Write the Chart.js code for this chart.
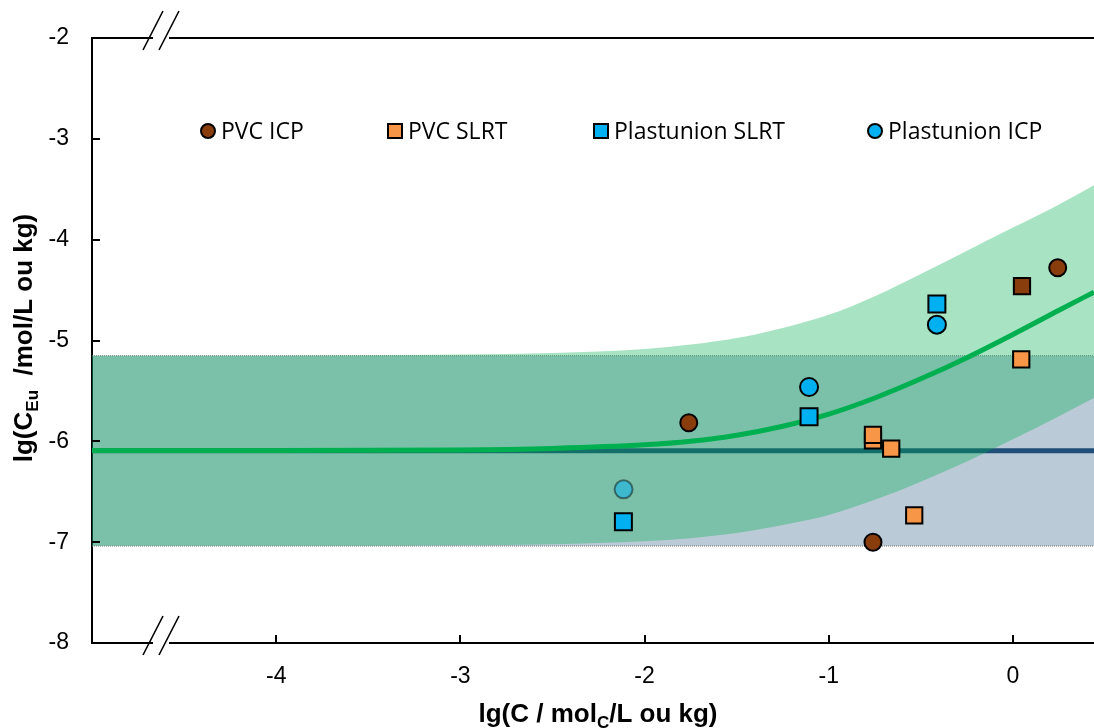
<!DOCTYPE html>
<html><head><meta charset="utf-8">
<script src="https://cdn.jsdelivr.net/npm/chart.js@4/dist/chart.umd.min.js"></script>
<style>html,body{margin:0;padding:0;background:#fff;overflow:hidden}canvas{display:block}</style>
</head><body><canvas id="c" width="1094" height="728" style="width:1094px;height:728px"></canvas>
<script>
// ---- data ----
const xTicks = [-4, -3, -2, -1, 0];
const yTicks = [-8, -7, -6, -5, -4, -3, -2];
const pvcIcpX = [-1.76, -0.76, 0.243];
const pvcIcpY = [-5.815, -7.0, -4.278];
const pvcSlrtX = [-0.76, -0.76, -0.661, -0.536, 0.045];
const pvcSlrtY = [-5.99, -5.935, -6.073, -6.734, -5.187];
const pvcSlrtBrownX = [0.049];
const pvcSlrtBrownY = [-4.46];
const plastSlrtX = [-2.115, -1.107, -0.413];
const plastSlrtY = [-6.797, -5.756, -4.638];
const plastIcpX = [-1.107, -0.413];
const plastIcpY = [-5.461, -4.843];
const plastIcpFadedX = [-2.114];
const plastIcpFadedY = [-6.476];
const curveX = [-5, -4, -3, -2.5, -2, -1.75, -1.5, -1.25, -1, -0.75, -0.5, -0.25, 0, 0.25, 0.44];
const fitY   = [-6.09, -6.09, -6.085, -6.07, -6.035, -6.0, -5.94, -5.85, -5.73, -5.57, -5.38, -5.17, -4.94, -4.70, -4.52];
const upperY = [-5.15, -5.15, -5.14, -5.125, -5.085, -5.04, -4.975, -4.875, -4.745, -4.56, -4.34, -4.11, -3.88, -3.65, -3.46];
const lowerY = [-7.035, -7.035, -7.03, -7.02, -6.99, -6.96, -6.91, -6.83, -6.73, -6.58, -6.40, -6.20, -5.98, -5.75, -5.57];
const baseX = [-5, 0.44];
const baseY = [-6.093, -6.093];
const baseUpperY = [-5.151, -5.151];
const baseLowerY = [-7.038, -7.038];
const legendLabels = ['PVC ICP', 'PVC SLRT', 'Plastunion SLRT', 'Plastunion ICP'];

// ---- styles ----
const BROWN = '#8a3d0c', ORANGE = '#f79646', BLUE = '#00b0f0';
const pts = (xs, ys) => xs.map((x, i) => ({x, y: ys[i]}));
const noPt = {pointRadius: 0, pointHoverRadius: 0};

const datasets = [
  {label: 'PVC ICP', data: pts(pvcIcpX, pvcIcpY), showLine: false, pointStyle: 'circle', pointRadius: 8.5,
   backgroundColor: BROWN, borderColor: '#000', borderWidth: 2, order: 1},
  {label: 'PVC SLRT b', data: pts(pvcSlrtBrownX, pvcSlrtBrownY), showLine: false, pointStyle: 'rect', pointRadius: 11.5,
   backgroundColor: BROWN, borderColor: '#000', borderWidth: 2, order: 2},
  {label: 'PVC SLRT', data: pts(pvcSlrtX, pvcSlrtY), showLine: false, pointStyle: 'rect', pointRadius: 11.5,
   backgroundColor: ORANGE, borderColor: '#000', borderWidth: 2, order: 2},
  {label: 'Plastunion SLRT', data: pts(plastSlrtX, plastSlrtY), showLine: false, pointStyle: 'rect', pointRadius: 12,
   backgroundColor: BLUE, borderColor: '#000', borderWidth: 2, order: 3},
  {label: 'Plastunion ICP', data: pts(plastIcpX, plastIcpY), showLine: false, pointStyle: 'circle', pointRadius: 9,
   backgroundColor: BLUE, borderColor: '#000', borderWidth: 2, order: 4},
  {label: 'fit', data: pts(curveX, fitY), borderColor: '#00b050', borderWidth: 5, ...noPt,
   cubicInterpolationMode: 'monotone', fill: false, order: 6},
  {label: 'gUpper', data: pts(curveX, upperY), borderColor: 'rgba(0,0,0,0)', borderWidth: 0, ...noPt,
   cubicInterpolationMode: 'monotone', fill: '+1', backgroundColor: 'rgba(0,176,80,0.34)', order: 7},
  {label: 'gLower', data: pts(curveX, lowerY), borderColor: 'rgba(0,0,0,0)', borderWidth: 0, ...noPt,
   cubicInterpolationMode: 'monotone', fill: false, order: 7},
  {label: 'faded', data: pts(plastIcpFadedX, plastIcpFadedY), showLine: false, pointStyle: 'circle', pointRadius: 9,
   backgroundColor: 'rgba(0,176,240,0.5)', borderColor: 'rgba(0,0,0,0.45)', borderWidth: 2, order: 5},
  {label: 'base', data: pts(baseX, baseY), borderColor: '#1f4e79', borderWidth: 5, ...noPt, fill: false, order: 9},
  {label: 'bUpper', data: pts(baseX, baseUpperY), borderColor: '#777', borderWidth: 1, borderDash: [1, 1], ...noPt,
   fill: '+1', backgroundColor: 'rgba(31,78,121,0.3)', order: 10},
  {label: 'bLower', data: pts(baseX, baseLowerY), borderColor: '#777', borderWidth: 1, borderDash: [1, 1], ...noPt,
   fill: false, order: 9.5}
];

const TICKFONT = {size: 23};

const decor = {
  id: 'decor',
  afterDraw(chart) {
    const ctx = chart.ctx, a = chart.chartArea;
    const xs = chart.scales.x, ys = chart.scales.y;
    ctx.save();
    // top border
    ctx.strokeStyle = '#000'; ctx.lineWidth = 2;
    ctx.beginPath(); ctx.moveTo(a.left - 1, a.top); ctx.lineTo(a.right, a.top); ctx.stroke();
    // inner tick marks
    ctx.lineWidth = 2;
    xTicks.forEach(v => {
      const px = Math.round(xs.getPixelForValue(v));
      ctx.beginPath(); ctx.moveTo(px, a.bottom); ctx.lineTo(px, a.bottom - 8); ctx.stroke();
    });
    yTicks.forEach(v => {
      const py = Math.round(ys.getPixelForValue(v));
      ctx.beginPath(); ctx.moveTo(a.left, py); ctx.lineTo(a.left + 8, py); ctx.stroke();
    });
    // axis breaks
    [a.top, a.bottom].forEach(ay => {
      ctx.fillStyle = '#fff';
      ctx.fillRect(153, ay - 2, 16, 4);
      ctx.strokeStyle = '#000'; ctx.lineWidth = 1.6;
      ctx.beginPath();
      ctx.moveTo(143, ay + 12); ctx.lineTo(163, ay - 27);
      ctx.moveTo(159, ay + 12); ctx.lineTo(179, ay - 27);
      ctx.stroke();
    });
    // axis titles
    ctx.fillStyle = '#000';
    const big = "bold 26px 'Liberation Sans', Arial, sans-serif";
    const sub = "bold 17px 'Liberation Sans', Arial, sans-serif";
    function richText(parts, cx, cy) {
      let w = 0;
      parts.forEach(p => { ctx.font = p[1] ? sub : big; w += ctx.measureText(p[0]).width; });
      let x = cx - w / 2;
      ctx.textAlign = 'left'; ctx.textBaseline = 'alphabetic';
      parts.forEach(p => {
        ctx.font = p[1] ? sub : big;
        ctx.fillText(p[0], x, cy + (p[1] ? 6 : 0));
        x += ctx.measureText(p[0]).width;
      });
    }
    richText([['lg(C / mol', 0], ['C', 1], ['/L ou kg)', 0]], 598, 722);
    ctx.save();
    ctx.translate(32, 338); ctx.rotate(-Math.PI / 2);
    richText([['lg(C', 0], ['Eu', 1], ['  /mol/L ou kg)', 0]], 0, 0);
    ctx.restore();
    // legend
    const items = [
      {style: 'circle', color: BROWN, x: 208},
      {style: 'rect', color: ORANGE, x: 395},
      {style: 'rect', color: BLUE, x: 601},
      {style: 'circle', color: BLUE, x: 875}
    ];
    const ly = 131;
    items.forEach((it, i) => {
      ctx.fillStyle = it.color; ctx.strokeStyle = '#000'; ctx.lineWidth = 2;
      ctx.beginPath();
      if (it.style === 'circle') ctx.arc(it.x, ly, 7, 0, Math.PI * 2);
      else ctx.rect(it.x - 7, ly - 7, 14, 14);
      ctx.fill(); ctx.stroke();
      ctx.fillStyle = '#000';
      ctx.font = "23px 'Open Sans', sans-serif";
      ctx.textAlign = 'left'; ctx.textBaseline = 'middle';
      ctx.fillText(legendLabels[i], it.x + 13, ly + 1);
    });
    ctx.restore();
  }
};

const zeroPad = s => { s.paddingLeft = 0; s.paddingRight = 0; s.paddingTop = 0; s.paddingBottom = 0; };

new Chart(document.getElementById('c'), {
  type: 'line',
  data: {datasets},
  options: {
    responsive: false, animation: false, devicePixelRatio: 1,
    layout: {autoPadding: false, padding: {top: 38, right: 0, left: 0, bottom: 0}},
    plugins: {legend: {display: false}, tooltip: {enabled: false}},
    scales: {
      x: {
        type: 'linear', min: -5, max: 0.44,
        afterBuildTicks: s => { s.ticks = xTicks.map(v => ({value: v})); },
        afterFit: s => { s.height = 85; zeroPad(s); },
        ticks: {font: TICKFONT, color: '#000', padding: 20, maxRotation: 0, autoSkip: false},
        grid: {display: true, drawOnChartArea: false, drawTicks: false},
        border: {display: true, color: '#000', width: 2}
      },
      y: {
        type: 'linear', min: -8, max: -2,
        afterBuildTicks: s => { s.ticks = yTicks.map(v => ({value: v})); },
        afterFit: s => { s.width = 92; zeroPad(s); },
        ticks: {font: TICKFONT, color: '#000', padding: 23, autoSkip: false},
        grid: {display: true, drawOnChartArea: false, drawTicks: false},
        border: {display: true, color: '#000', width: 2}
      }
    }
  },
  plugins: [decor]
});
</script></body></html>
